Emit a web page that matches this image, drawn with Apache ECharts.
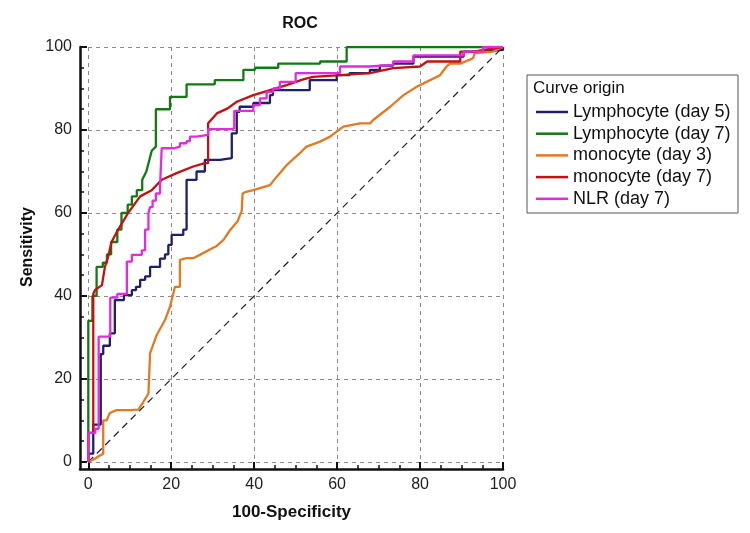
<!DOCTYPE html>
<html>
<head>
<meta charset="utf-8">
<script src="https://cdn.jsdelivr.net/npm/echarts@6/dist/echarts.min.js"></script>
<style>html,body{margin:0;padding:0;background:#fff}#chart{width:750px;height:533px}</style>
</head>
<body>
<div id="chart"></div>
<script>
// ---- data ----
var seriesNames = ['Lymphocyte (day 5)', 'Lymphocyte (day 7)', 'monocyte (day 3)', 'monocyte (day 7)', 'NLR (day 7)'];
var xTickLabels = [0, 20, 40, 60, 80, 100];
var yTickLabels = [0, 20, 40, 60, 80, 100];
var minorTicks = [5, 10, 15, 25, 30, 35, 45, 50, 55, 65, 70, 75, 85, 90, 95];

var lymphDay5 = [[0,0],[0,2],[1.2,2],[1.2,9],[3,9],[3,26],[3.6,26],[3.6,28],[5.2,28],[5.2,31],[6.4,31],[6.4,39],[8.6,39],[8.6,40.2],[10.5,40.2],[10.5,41.4],[11.5,41.4],[11.5,42.2],[12.5,42.2],[12.5,43.9],[13.7,43.9],[13.7,44.7],[14.9,44.7],[14.9,47],[17.3,47],[17.3,49],[18.5,49],[18.5,50],[19.3,50],[19.3,52.3],[20.1,52.3],[20.1,54.7],[22.9,54.7],[22.9,56],[23.7,56],[23.7,68],[26.1,68],[26.1,70],[28.1,70],[28.1,72.8],[31.8,72.8],[31.8,73.2],[34.6,73.2],[34.6,79.2],[35.8,79.2],[35.8,84.4],[36.5,84.4],[36.5,85.6],[39.8,85.6],[39.8,86.5],[43.8,86.5],[43.8,88.4],[44.5,88.4],[44.5,89.6],[53.4,89.6],[53.4,92],[59.9,92],[59.9,93.2],[63,93.2],[63,93.7],[67.9,93.7],[67.9,94.5],[70.3,94.5],[70.3,95.5],[73.5,95.5],[73.5,96],[78.4,96],[78.4,97.7],[90.5,97.7],[90.5,98.9],[94.5,98.9],[94.5,99.3],[100,99.3],[100,100]];
var lymphDay7 = [[0,0],[0,34],[1,34],[1,40],[2,40],[2,47],[3.5,47],[3.5,48],[4.5,48],[4.5,50],[5.5,50],[5.5,53],[7,53],[7,56],[8,56],[8,60],[9.5,60],[9.5,62],[10.5,62],[10.5,64],[11.7,64],[11.7,65.5],[13,65.5],[13,68],[14,70],[15.3,75],[16.3,76],[16.3,85],[19.7,85],[19.7,88],[23.7,88],[23.7,91],[30.5,91],[30.5,92],[37.4,92],[37.4,94.5],[40.2,94.5],[40.2,95],[45.8,95],[45.8,96],[55.9,96],[55.9,96.5],[62.3,96.5],[62.3,100],[100,100]];
var monoDay3 = [[0,0],[1.5,0.7],[2.4,1.3],[3.6,2],[3.6,10],[4.4,10],[5.2,11.8],[6.8,12.5],[10,12.5],[12.1,12.6],[13.3,14.5],[14.5,16.5],[14.9,16.5],[14.9,26.2],[16.5,30.6],[18.5,34.2],[19.7,37.4],[20.9,42.2],[22.1,42.2],[22.1,48.7],[23.7,49.1],[25.3,49.1],[26.9,49.9],[30.1,51.6],[30.9,52],[32.6,53.5],[34.2,55.9],[36,58],[37,60.5],[37.2,64.7],[38,65.1],[39.8,65.5],[43.8,66.7],[45.4,68.7],[47.8,71.5],[51,74.4],[52.6,76],[55.9,77.2],[58.3,78.4],[59.9,79.6],[61.5,80.8],[65.5,81.6],[68,81.6],[68.7,82.4],[72.8,85.6],[76,88.4],[79.2,90.4],[81.6,91.6],[84.8,93.2],[86.4,95.3],[87.2,96],[89.7,96],[92.8,97.3],[93.2,98.5],[97.6,98.9],[100,100]];
var monoDay7 = [[0,0],[0,7],[1.2,7],[1.2,40.5],[1.6,41.4],[3.3,42.6],[4,47],[4.8,49.5],[5.6,53],[7.2,56],[9.6,60],[12.5,64],[15.3,65.5],[17.7,68],[21.3,69.6],[25.3,71.2],[28.1,72],[28.9,72],[28.9,81.6],[31,84],[33.6,85.2],[35.8,86.8],[39.8,88.4],[43.8,89.6],[47.8,90.8],[51.8,92.2],[54.2,92.8],[60.7,93.2],[67.9,93.7],[73.5,94.9],[80,95.3],[81.7,96.5],[89.7,96.5],[89.7,98.9],[92.8,98.9],[100,100]];
var nlrDay7 = [[0,0],[0,7],[1.7,7],[1.7,8],[2.5,8],[2.5,30.2],[5.3,30.2],[5.3,39.6],[7,39.6],[7,40.5],[9.3,40.5],[9.3,48.3],[10.5,48.3],[10.5,49.9],[12.9,49.9],[12.9,51],[13.7,51],[13.7,56],[14.5,56],[14.5,60],[14.9,60],[14.9,61.4],[15.5,61.4],[15.5,63],[16.3,63],[16.3,64.7],[17.3,64.7],[17.3,66.4],[17.7,66.4],[17.7,75.6],[20.8,75.6],[20.8,76],[22.1,76],[22.1,76.8],[23.7,76.8],[23.7,77.3],[24.5,77.3],[24.5,78.4],[26.1,78.4],[26.1,78.8],[28.9,78.8],[28.9,80.2],[34.6,80.2],[34.6,80.4],[35.2,80.4],[35.2,84.6],[39.8,84.6],[39.8,86],[41.4,86],[41.4,87.6],[43,87.6],[43,89.2],[44.6,89.2],[44.6,90],[46.2,90],[46.2,91.6],[50,91.6],[50,93.7],[60.7,93.7],[60.7,95.3],[67.9,95.3],[67.9,95.7],[73.5,95.7],[73.5,96.5],[78.4,96.5],[78.4,98],[90.5,98],[90.5,98.9],[95.2,98.9],[95.2,100],[100,100]];
var diagonal = [[0,0],[100,100]];

var seriesData = [lymphDay5, lymphDay7, monoDay3, monoDay7, nlrDay7];
var seriesColors = ['#1f1f6b', '#137a13', '#e27a24', '#c41010', '#e22ae2'];

// ---- chart ----
var FONT = '"Liberation Sans", Arial, sans-serif';
var chart = echarts.init(document.getElementById('chart'), null, {renderer: 'canvas'});

function mainAxis(min, ticks) {
  return {
    type: 'value', min: min, max: 100,
    axisLine: {show: true, onZero: false, lineStyle: {color: '#111', width: 2.5}},
    axisTick: {show: true, inside: true, length: 7, customValues: ticks, lineStyle: {color: '#111', width: 2}},
    axisLabel: {show: true, customValues: ticks, color: '#222', fontSize: 16, fontFamily: FONT, margin: 8},
    splitLine: {show: true, lineStyle: {color: '#8a8a8a', width: 1, type: [4, 4]}}
  };
}
function minorAxis(min) {
  return {
    type: 'value', min: min, max: 100,
    axisLine: {show: false, onZero: false},
    axisTick: {show: true, inside: true, length: 4, customValues: minorTicks, lineStyle: {color: '#111', width: 1.5}},
    axisLabel: {show: false},
    splitLine: {show: false}
  };
}

var xMain = mainAxis(-2, xTickLabels);
xMain.name = '100-Specificity';
xMain.nameLocation = 'middle';
xMain.nameGap = 35;
xMain.nameTextStyle = {fontSize: 17, fontWeight: 'bold', color: '#111', fontFamily: FONT};
var xMinor = minorAxis(-2); xMinor.position = 'bottom'; xMinor.offset = 0;
var yMain = mainAxis(-1.7, yTickLabels);
var yMinor = minorAxis(-1.7); yMinor.position = 'left'; yMinor.offset = 0;

var series = seriesNames.map(function (n, i) {
  return {
    name: n, type: 'line', data: seriesData[i], showSymbol: false, symbol: 'none',
    lineStyle: {color: seriesColors[i], width: 2.3}, itemStyle: {color: seriesColors[i]},
    z: 3, silent: true
  };
});
series.unshift({
  name: 'ref', type: 'line', data: diagonal, showSymbol: false, symbol: 'none',
  lineStyle: {color: '#222', width: 1.2, type: [7, 5]}, z: 2, silent: true
});

chart.setOption({
  animation: false,
  backgroundColor: '#fff',
  title: {text: 'ROC', left: 295, top: 11, textAlign: 'center',
    textStyle: {fontSize: 16, fontWeight: 'bold', color: '#111', fontFamily: FONT}},
  grid: {left: 80, right: 247, top: 47, bottom: 64, containLabel: false},
  xAxis: [xMain, xMinor],
  yAxis: [yMain, yMinor],
  legend: {
    data: seriesNames, orient: 'vertical', left: 536, top: 102, padding: 0,
    icon: 'rect', itemWidth: 32, itemHeight: 2.5, itemGap: 1.7,
    textStyle: {fontSize: 18, color: '#111', fontFamily: FONT, lineHeight: 20},
    selectedMode: false
  },
  graphic: [
    {type: 'rect', shape: {x: 527, y: 75, width: 211, height: 138},
      style: {fill: 'none', stroke: '#555', lineWidth: 1}, silent: true},
    {type: 'text', x: 533, y: 80, style: {text: 'Curve origin', fontSize: 17, fontFamily: FONT, fill: '#111'}, silent: true},
    {type: 'text', x: 28, y: 247, rotation: Math.PI / 2,
      style: {text: 'Sensitivity', fontSize: 16, fontWeight: 'bold', fontFamily: FONT, fill: '#111', align: 'center', verticalAlign: 'middle'}, silent: true}
  ],
  series: series
});
</script>
</body>
</html>
